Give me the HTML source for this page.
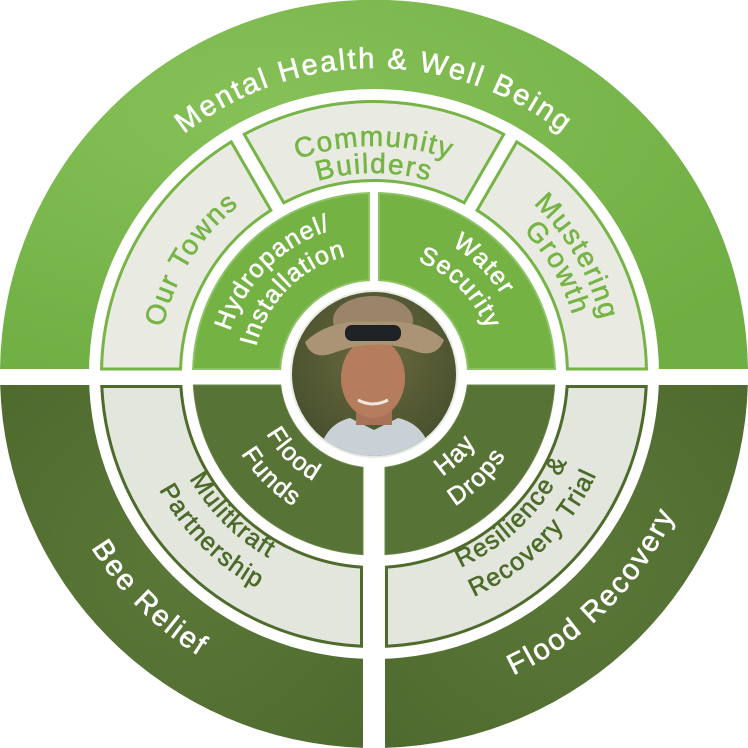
<!DOCTYPE html>
<html><head><meta charset="utf-8"><style>
html,body{margin:0;padding:0;background:#fff;}
svg{display:block;}
text{font-family:"Liberation Sans",sans-serif;}
</style></head><body>
<svg width="748" height="748" viewBox="0 0 748 748" xmlns="http://www.w3.org/2000/svg">
<defs>
<radialGradient id="tg" cx="0.35" cy="0.3" r="0.8"><stop offset="0" stop-color="#86c158"/><stop offset="1" stop-color="#6fae42"/></radialGradient>
<radialGradient id="bg" cx="0.5" cy="0.5" r="0.7"><stop offset="0" stop-color="#5b7838"/><stop offset="1" stop-color="#4f6a2e"/></radialGradient>
<radialGradient id="pg" cx="0.5" cy="0.4" r="0.7"><stop offset="0" stop-color="#6b6a3e"/><stop offset="1" stop-color="#3f4a2a"/></radialGradient>
<clipPath id="pc"><circle cx="374" cy="374" r="82"/></clipPath>
<path id="c308" d="M68,374 A306 306 0 0 1 680,374"/>
<path id="c229" d="M146,374 A228 228 0 0 1 602,374"/>
<path id="c202" d="M173,374 A201 201 0 0 1 575,374"/>
<path id="c218" d="M158,374 A216 216 0 0 1 590,374"/>
<path id="c233" d="M141,374 A233 233 0 0 1 607,374"/>
<path id="c207" d="M167,374 A207 207 0 0 1 581,374"/>
<path id="c148" d="M224,374 A150 150 0 0 1 524,374"/>
<path id="c122" d="M253,374 A121 121 0 0 1 495,374"/>
<path id="b330" d="M42,374 A332 332 0 0 0 706,374"/>
<path id="b123" d="M251,374 A123 123 0 0 0 497,374"/>
<path id="b149" d="M219,374 A155 155 0 0 0 529,374"/>
<path id="b212" d="M162,374 A212 212 0 0 0 586,374"/>
<path id="b238" d="M130,374 A244 244 0 0 0 618,374"/>
</defs>

<path d="M0.03,369 A374 374 0 0 1 747.97,369 Z" fill="url(#tg)"/>
<path d="M0.16,385 L363,385 L363,747.84 A374 374 0 0 1 0.16,385 Z" fill="url(#bg)"/>
<path d="M747.84,385 L385,385 L385,747.84 A374 374 0 0 0 747.84,385 Z" fill="url(#bg)"/>
<circle cx="374" cy="374" r="285" fill="#fff"/>
<rect x="0" y="369" width="748" height="16" fill="#fff"/>

<g stroke="#76b446" stroke-width="3" fill="#e9ebe2">
<path d="M101.55,369 A272.5 272.5 0 0 1 231.24,141.89 L270.83,210.30 A193.5 193.5 0 0 0 180.56,369 Z"/>
<path d="M244.29,134.34 A272.5 272.5 0 0 1 503.71,134.34 L464.19,202.81 A193.5 193.5 0 0 0 283.81,202.81 Z"/>
<path d="M516.76,141.89 A272.5 272.5 0 0 1 646.45,369 L567.44,369 A193.5 193.5 0 0 0 477.17,210.30 Z"/>
</g>
<g stroke="#4f6b2c" stroke-width="3" fill="#e2e6dc">
<path d="M101.79,386.5 L180.90,386.5 A193.5 193.5 0 0 0 361.5,567.10 L361.5,646.21 A272.5 272.5 0 0 1 101.79,386.5 Z"/>
<path d="M646.21,386.5 L567.10,386.5 A193.5 193.5 0 0 1 386.5,567.10 L386.5,646.21 A272.5 272.5 0 0 0 646.21,386.5 Z"/>
</g>

<g fill="#74b244" stroke="#8cc464" stroke-width="2">
<path d="M193.07,369 A181 181 0 0 1 369,193.07 L369,280.13 A94 94 0 0 0 280.13,369 Z"/>
<path d="M379,193.07 A181 181 0 0 1 554.93,369 L467.87,369 A94 94 0 0 0 379,280.13 Z"/>
</g>
<g fill="#577335" stroke="#6a8548" stroke-width="1">
<path d="M193.33,385 L280.65,385 A94 94 0 0 0 363,467.35 L363,554.67 A181 181 0 0 1 193.33,385 Z"/>
<path d="M554.67,385 L467.35,385 A94 94 0 0 1 385,467.35 L385,554.67 A181 181 0 0 0 554.67,385 Z"/>
</g>

<circle cx="374" cy="374" r="84" fill="#e8ebe3"/>
<g clip-path="url(#pc)">
<rect x="290" y="290" width="170" height="170" fill="url(#pg)"/>
<path d="M318,460 Q322,425 350,418 L374,430 L398,418 Q428,425 432,460 Z" fill="#c9d0d6"/>
<rect x="356" y="395" width="36" height="30" fill="#a87258"/>
<ellipse cx="373" cy="378" rx="32" ry="40" fill="#b57c5e"/>
<ellipse cx="373" cy="320" rx="40" ry="24" fill="#9c8468"/>
<path d="M305,342 Q330,318 374,322 Q420,318 444,340 Q436,360 412,350 Q374,338 336,352 Q312,362 305,342 Z" fill="#ab9475"/>
<rect x="345" y="325" width="56" height="16" rx="7" fill="#1f2224"/>
<path d="M358,400 Q373,408 388,400" stroke="#f2e6dc" stroke-width="3" fill="none"/>
</g>

<g fill="#fff" stroke="#fff" stroke-width="0.6" font-size="29" letter-spacing="2.2">
<text><textPath href="#c308" startOffset="50%" text-anchor="middle">Mental Health &amp; Well Being</textPath></text>
<text transform="rotate(45 374 374)"><textPath href="#b330" startOffset="50%" text-anchor="middle">Bee Relief</textPath></text>
<text transform="rotate(-45 374 374)"><textPath href="#b330" startOffset="50%" text-anchor="middle">Flood Recovery</textPath></text>
</g>

<g fill="#76b446" stroke="#76b446" stroke-width="0.6" font-size="28" letter-spacing="1.6">
<text><textPath href="#c229" startOffset="50%" text-anchor="middle">Community</textPath></text>
<text><textPath href="#c202" startOffset="50%" text-anchor="middle">Builders</textPath></text>
<text transform="rotate(-58 374 374)"><textPath href="#c218" startOffset="50%" text-anchor="middle">Our Towns</textPath></text>
<text transform="rotate(60 374 374)"><textPath href="#c233" startOffset="50%" text-anchor="middle">Mustering</textPath></text>
<text transform="rotate(60 374 374)"><textPath href="#c207" startOffset="50%" text-anchor="middle">Growth</textPath></text>
</g>
<g fill="#4c6a2a" stroke="#4c6a2a" stroke-width="0.6" font-size="25" letter-spacing="1.3">
<text transform="rotate(45 374 374)"><textPath href="#b212" startOffset="50%" text-anchor="middle">Mulitkraft</textPath></text>
<text transform="rotate(45 374 374)"><textPath href="#b238" startOffset="50%" text-anchor="middle">Partnership</textPath></text>
<text transform="rotate(-45 374 374)"><textPath href="#b212" startOffset="50%" text-anchor="middle">Resilience &amp;</textPath></text>
<text transform="rotate(-45 374 374)"><textPath href="#b238" startOffset="50%" text-anchor="middle">Recovery Trial</textPath></text>
</g>

<g fill="#fff" stroke="#fff" stroke-width="0.6" font-size="25" letter-spacing="1.3">
<text transform="rotate(-45 374 374)"><textPath href="#c148" startOffset="50%" text-anchor="middle">Hydropanel/</textPath></text>
<text transform="rotate(-45 374 374)"><textPath href="#c122" startOffset="50%" text-anchor="middle">Installation</textPath></text>
<text transform="rotate(45 374 374)"><textPath href="#c148" startOffset="50%" text-anchor="middle">Water</textPath></text>
<text transform="rotate(45 374 374)"><textPath href="#c122" startOffset="50%" text-anchor="middle">Security</textPath></text>
<text transform="rotate(45 374 374)"><textPath href="#b123" startOffset="50%" text-anchor="middle">Flood</textPath></text>
<text transform="rotate(45 374 374)"><textPath href="#b149" startOffset="50%" text-anchor="middle">Funds</textPath></text>
<text transform="rotate(-45 374 374)"><textPath href="#b123" startOffset="50%" text-anchor="middle">Hay</textPath></text>
<text transform="rotate(-45 374 374)"><textPath href="#b149" startOffset="50%" text-anchor="middle">Drops</textPath></text>
</g>
</svg>
</body></html>
